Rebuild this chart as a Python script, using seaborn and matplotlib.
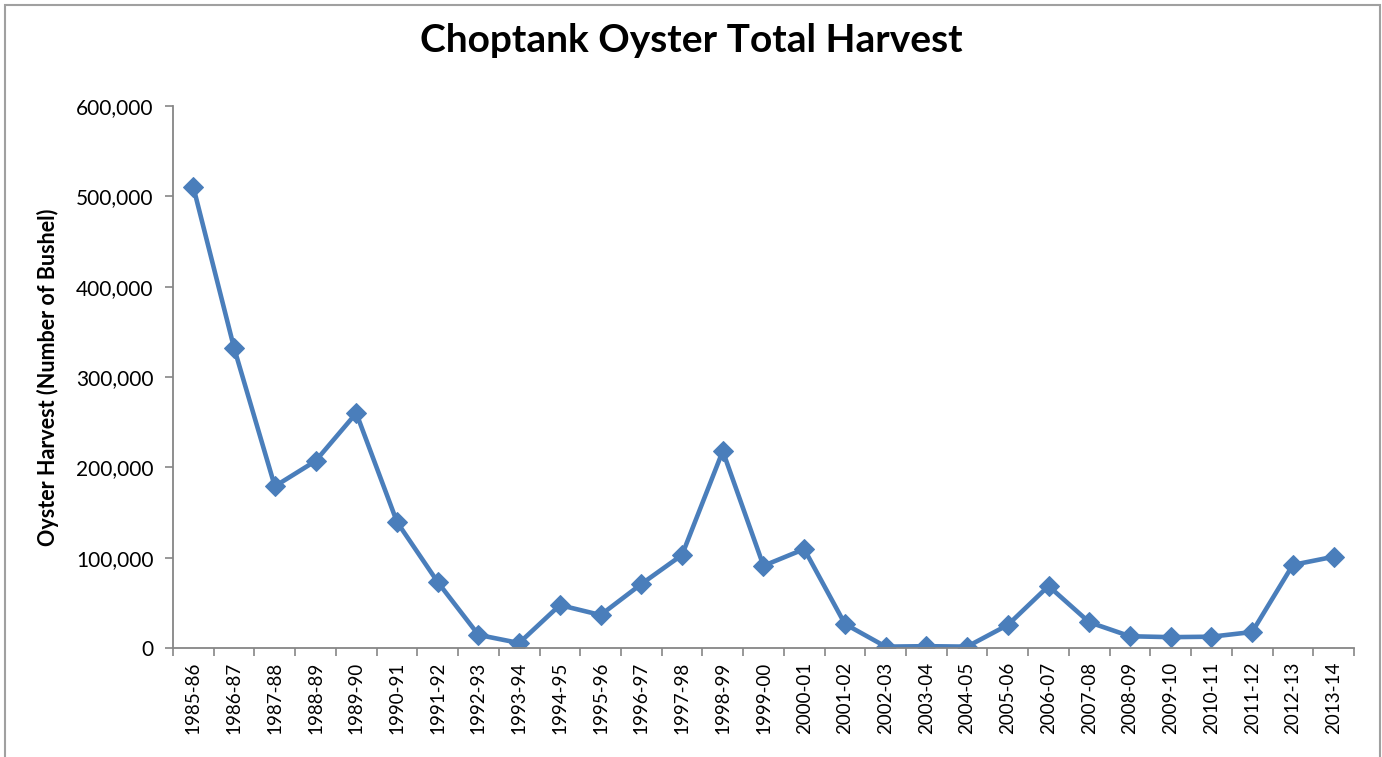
import numpy as np
import pandas as pd
import matplotlib.pyplot as plt
import matplotlib.ticker as mticker
from matplotlib.patches import Rectangle
import seaborn as sns

sns.set_theme(style="white")
plt.rcParams['font.family'] = ['Lato', 'DejaVu Sans']
plt.rcParams['text.color'] = "black"

LINE_COLOR = "#4A7EBB"
AXIS_COLOR = "#868686"

seasons = [
    "1985-86", "1986-87", "1987-88", "1988-89", "1989-90", "1990-91",
    "1991-92", "1992-93", "1993-94", "1994-95", "1995-96", "1996-97",
    "1997-98", "1998-99", "1999-00", "2000-01", "2001-02", "2002-03",
    "2003-04", "2004-05", "2005-06", "2006-07", "2007-08", "2008-09",
    "2009-10", "2010-11", "2011-12", "2012-13", "2013-14",
]
harvest = [
    510000, 332000, 179000, 207000, 260000, 139500,
    73000, 14500, 5500, 47500, 36500, 70800,
    103000, 218000, 91000, 109500, 26600, 1500,
    2000, 1500, 25500, 68600, 28500, 13000,
    12000, 12500, 17700, 92000, 101000,
]

df = pd.DataFrame({"season": seasons, "harvest": harvest})

fig = plt.figure(figsize=(13.82, 7.57), dpi=100)
ax = fig.add_axes([0.1252, 0.144, 0.8545, 0.716])

sns.lineplot(data=df, x="season", y="harvest", sort=False, ax=ax,
             color=LINE_COLOR, linewidth=3.3, marker="D", markersize=10.5,
             markeredgecolor=LINE_COLOR)

n = len(seasons)
ax.set_xlim(-0.5, n - 0.5)
ax.set_ylim(0, 600000)
ax.yaxis.set_major_locator(mticker.MultipleLocator(100000))
ax.yaxis.set_major_formatter(mticker.FuncFormatter(lambda v, p: f"{int(v):,}"))

# category boundary ticks, Excel style
ax.set_xticks(np.arange(n))
ax.set_xticklabels(seasons, rotation=90)
ax.set_xticks(np.arange(-0.5, n), minor=True)
ax.tick_params(axis="x", which="major", length=0, pad=10, labelsize=13.5, labelcolor="black")
ax.tick_params(axis="x", which="minor", length=6, width=1.2, color=AXIS_COLOR, direction="out")
ax.tick_params(axis="y", which="major", length=6, width=1.2, color=AXIS_COLOR,
               direction="out", labelsize=15, labelcolor="black", pad=8)
ax.tick_params(bottom=True, left=True)
ax.xaxis.set_tick_params(which="minor", bottom=True)

for side in ["top", "right"]:
    ax.spines[side].set_visible(False)
for side in ["left", "bottom"]:
    ax.spines[side].set_color(AXIS_COLOR)
    ax.spines[side].set_linewidth(1.3)

ax.set_xlabel("")
ax.set_ylabel("Oyster Harvest (Number of Bushel)", fontsize=15.5, fontweight="bold",
              labelpad=12, color="black")
fig.suptitle("Choptank Oyster Total Harvest", fontsize=28, fontweight="bold", y=0.97)

# chart frame
fig.patches.append(Rectangle((5 / 1382, -0.05), 1375 / 1382, 1.05 - 5 / 757,
                             transform=fig.transFigure, fill=False,
                             edgecolor="#A0A0A0", linewidth=1.5))

fig.savefig("out.png", dpi=100)
